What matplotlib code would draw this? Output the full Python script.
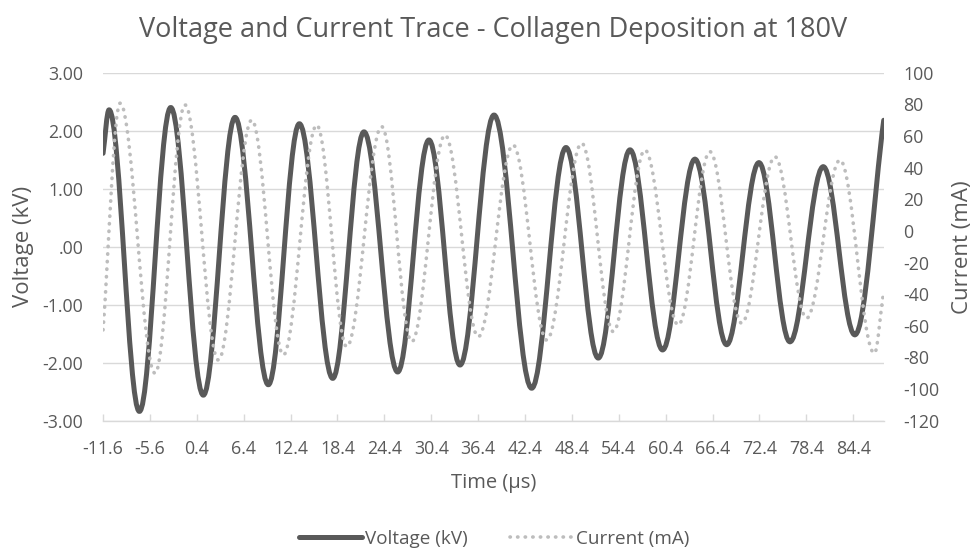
import matplotlib
matplotlib.use("Agg")
import matplotlib.pyplot as plt
from matplotlib.path import Path
from matplotlib.patches import PathPatch
from matplotlib.lines import Line2D

# turning points of the traces (time in µs)
volt_t = [-11.6, -10.83, -6.95, -2.94, 1.23, 5.29, 9.55, 13.52, 17.79, 21.79, 26.1, 30.1, 34.08,
          38.43, 43.25, 47.64, 51.77, 55.83, 60.0, 64.14, 68.2, 72.33, 76.3, 80.56, 84.6, 88.3]
volt_kv = [1.61, 2.36, -2.84, 2.40, -2.56, 2.23, -2.38, 2.12, -2.27, 1.98, -2.16, 1.84, -2.04,
           2.27, -2.44, 1.71, -1.92, 1.67, -1.78, 1.51, -1.69, 1.45, -1.64, 1.38, -1.52, 2.18]

curr_t = [-11.6, -9.42, -4.95, -1.11, 3.15, 7.43, 11.47, 15.74, 19.58, 24.06, 27.9, 32.16, 36.42,
          40.86, 45.17, 49.65, 53.69, 57.74, 62.0, 66.06, 70.12, 74.38, 78.43, 82.7, 87.1, 88.2]
curr_ma = [-62.6, 80.7, -90.0, 79.6, -81.6, 70.1, -78.4, 66.9, -73.2, 65.9, -70.0, 60.6, -66.9,
           54.3, -69.0, 55.4, -63.7, 51.1, -59.5, 50.1, -58.4, 46.9, -55.2, 44.8, -77.4, -41.6]

x_tick_labels = ["-11.6", "-5.6", "0.4", "6.4", "12.4", "18.4", "24.4", "30.4", "36.4",
                 "42.4", "48.4", "54.4", "60.4", "66.4", "72.4", "78.4", "84.4"]
left_tick_labels = ["-3.00", "-2.00", "-1.00", ".00", "1.00", "2.00", "3.00"]
right_ticks = [-120, -100, -80, -60, -40, -20, 0, 20, 40, 60, 80, 100]

GRAY_TXT = "#595959"
GRID = "#D9D9D9"
plt.rcParams["font.family"] = ["Open Sans", "DejaVu Sans"]


def wave_path(ts, ys):
    # smooth curve through the turning points, flat at each peak / trough
    a = 0.364
    verts = [(ts[0], ys[0])]
    codes = [Path.MOVETO]
    n = len(ts)
    for i in range(n - 1):
        t0, y0, t1, y1 = ts[i], ys[i], ts[i + 1], ys[i + 1]
        dt = t1 - t0
        if i == 0:
            c1 = (t0 + dt / 3, y0 + (y1 - y0) / 3)
        else:
            c1 = (t0 + a * dt, y0)
        if i + 1 == n - 1:
            c2 = (t1 - dt / 3, y1 - (y1 - y0) / 3)
        else:
            c2 = (t1 - a * dt, y1)
        verts += [c1, c2, (t1, y1)]
        codes += [Path.CURVE4] * 3
    return Path(verts, codes)


fig = plt.figure(figsize=(9.73, 5.5), dpi=100)
ax = fig.add_axes([0.1056, 0.2351, 0.8029, 0.6327])
ax2 = ax.twinx()

volt_style = dict(color="#595959", lw=3.6)
curr_style = dict(color="#BDBDBD", lw=2.6, ls=(0, (0.1, 2.0)))

ax.add_patch(PathPatch(wave_path(volt_t, volt_kv), fill=False, edgecolor=volt_style["color"],
                       lw=volt_style["lw"], joinstyle="round", capstyle="round", zorder=3))
ax2.add_patch(PathPatch(wave_path(curr_t, curr_ma), fill=False, edgecolor=curr_style["color"],
                        lw=curr_style["lw"], linestyle=curr_style["ls"], capstyle="round", zorder=3))

ax.set_xlim(-11.64, 88.33)
ax.set_ylim(-3, 3)
ax2.set_ylim(-120, 100)

ax.set_xticks([float(s) for s in x_tick_labels], x_tick_labels)
ax.set_yticks([float(s) for s in left_tick_labels], left_tick_labels)
ax2.set_yticks(right_ticks, [str(v) for v in right_ticks])

ax.yaxis.grid(True, color=GRID, lw=1.0)
ax.set_axisbelow(True)
for s in ["top", "left", "right"]:
    ax.spines[s].set_visible(False)
ax.spines["bottom"].set_color(GRID)
ax.spines["bottom"].set_linewidth(1.0)
for s in ax2.spines.values():
    s.set_visible(False)

ax.tick_params(axis="x", direction="in", length=5, width=1, color=GRID, pad=14,
               labelsize=12.8, labelcolor=GRAY_TXT)
ax.tick_params(axis="y", length=0, pad=14, labelsize=12.8, labelcolor=GRAY_TXT)
ax2.tick_params(axis="y", length=0, pad=14, labelsize=12.8, labelcolor=GRAY_TXT)

ax.set_xlabel("Time (µs)", fontsize=14.5, color=GRAY_TXT, labelpad=11)
ax.set_ylabel("Voltage (kV)", fontsize=16, color=GRAY_TXT, labelpad=6)
ax2.set_ylabel("Current (mA)", fontsize=16, color=GRAY_TXT, labelpad=9)

fig.text(0.507, 1 - 30 / 550, "Voltage and Current Trace - Collagen Deposition at 180V",
         fontsize=19.5, color=GRAY_TXT, ha="center", va="center")

handles = [Line2D([], [], color=volt_style["color"], lw=volt_style["lw"], solid_capstyle="round"),
           Line2D([], [], color=curr_style["color"], lw=curr_style["lw"], ls=curr_style["ls"],
                  dash_capstyle="round")]
fig.legend(handles, ["Voltage (kV)", "Current (mA)"], loc="center", ncol=2, frameon=False,
           bbox_to_anchor=(0.508, 1 - 539 / 550), fontsize=13.6, labelcolor=GRAY_TXT,
           handlelength=3.3, handletextpad=0.2, columnspacing=2.2, borderpad=0)

fig.savefig("out.png", dpi=100)
